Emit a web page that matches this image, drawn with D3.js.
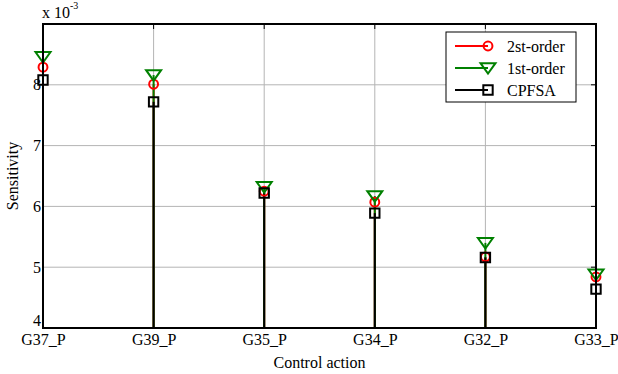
<!DOCTYPE html>
<html>
<head>
<meta charset="utf-8">
<script src="https://cdn.jsdelivr.net/npm/d3@7"></script>
<style>
  body { margin: 0; background: #fff; }
</style>
</head>
<body>
<script>
// ---- data (values in units of 1e-3) ----
var actions = ["G37_P", "G39_P", "G35_P", "G34_P", "G32_P", "G33_P"];
var secondOrder = [8.29, 8.01, 6.25, 6.07, 5.17, 4.84];
var firstOrder  = [8.46, 8.16, 6.32, 6.17, 5.40, 4.88];
var cpfsa       = [8.08, 7.72, 6.22, 5.89, 5.16, 4.64];
var yTicks = [4, 5, 6, 7, 8];

var series = [
  { name: "2st-order", values: secondOrder, color: "#ff0000", marker: "circle" },
  { name: "1st-order", values: firstOrder,  color: "#008000", marker: "triangle" },
  { name: "CPFSA",     values: cpfsa,       color: "#000000", marker: "square" }
];

var W = 618, H = 374;
var FONT = "Liberation Serif", FS = "16px";
var margin = { top: 24, right: 22, bottom: 46, left: 43 },
    width = W - margin.left - margin.right,
    height = H - margin.top - margin.bottom;

var svg = d3.select("body").append("svg")
    .attr("width", W).attr("height", H);

var g = svg.append("g")
    .attr("transform", "translate(" + margin.left + "," + margin.top + ")");

var x = d3.scalePoint().domain(actions).range([0, width]);
var y = d3.scaleLinear().domain([4, 9]).range([height, 0]);

// grid
g.append("g").selectAll("line").data(actions.slice(1, -1)).enter().append("line")
    .attr("x1", d => x(d)).attr("x2", d => x(d))
    .attr("y1", 0).attr("y2", height)
    .attr("stroke", "#b4b4b4").attr("stroke-width", 1);
g.append("g").selectAll("line").data(yTicks.slice(1)).enter().append("line")
    .attr("x1", 0).attr("x2", width)
    .attr("y1", d => y(d)).attr("y2", d => y(d))
    .attr("stroke", "#b4b4b4").attr("stroke-width", 1);

// clip for stems
svg.append("defs").append("clipPath").attr("id", "clip")
  .append("rect").attr("width", width).attr("height", height);

var sym = {
  circle: d3.symbol().type(d3.symbolCircle).size(62),
  square: d3.symbol().type(d3.symbolSquare).size(88)
};
function triangle(s) {
  // downward pointing triangle
  return "M" + (-s) + "," + (-s * 0.65) + "L" + s + "," + (-s * 0.65) + "L0," + (s * 0.75) + "Z";
}

// stems
series.forEach(function (s) {
  g.append("g").attr("clip-path", "url(#clip)")
    .selectAll("line").data(s.values).enter().append("line")
    .attr("x1", (d, i) => x(actions[i])).attr("x2", (d, i) => x(actions[i]))
    .attr("y1", height).attr("y2", d => y(d))
    .attr("stroke", s.color).attr("stroke-width", 2);
});

// markers
function drawMarker(sel, type) {
  if (type === "triangle") sel.attr("d", triangle(7.5));
  else sel.attr("d", sym[type]());
}
series.forEach(function (s) {
  g.append("g").selectAll("path").data(s.values).enter().append("path")
    .attr("transform", (d, i) => "translate(" + x(actions[i]) + "," + y(d) + ")")
    .call(drawMarker, s.marker)
    .attr("fill", "none").attr("stroke", s.color).attr("stroke-width", 2);
});

// axes
var xAxis = g.append("g").attr("transform", "translate(0," + height + ")")
    .call(d3.axisBottom(x).tickSize(0).tickPadding(6));
var yAxis = g.append("g")
    .call(d3.axisLeft(y).tickValues(yTicks).tickFormat(d3.format("d")).tickSize(0).tickPadding(2));
[xAxis, yAxis].forEach(function (a) {
  a.select(".domain").remove();
  a.selectAll("text").style("font-family", FONT).style("font-size", FS).attr("fill", "#000");
});
yAxis.selectAll("text").filter(d => d === 4).attr("dy", "-0.15em");

// inward tick marks
g.append("g").selectAll("line").data(yTicks).enter().append("line")
    .attr("x1", width - 5).attr("x2", width).attr("y1", d => y(d)).attr("y2", d => y(d))
    .attr("stroke", "#000");
g.append("g").selectAll("line").data(actions).enter().append("line")
    .attr("x1", d => x(d)).attr("x2", d => x(d)).attr("y1", 0).attr("y2", 5)
    .attr("stroke", "#000");

// box
g.append("rect").attr("width", width).attr("height", height)
    .attr("fill", "none").attr("stroke", "#000").attr("stroke-width", 2);

// exponent label
var ex = svg.append("text").attr("x", margin.left - 1).attr("y", 18)
    .style("font-family", FONT).style("font-size", FS).text("x 10");
ex.append("tspan").attr("dy", -9).style("font-size", "10px").text("-3");

// axis titles
svg.append("text").attr("x", margin.left + width / 2).attr("y", H - 6)
    .attr("text-anchor", "middle").style("font-family", FONT).style("font-size", FS)
    .text("Control action");
svg.append("text").attr("transform", "translate(18," + (margin.top + height / 2) + ") rotate(-90)")
    .attr("text-anchor", "middle").style("font-family", FONT).style("font-size", FS)
    .text("Sensitivity");

// legend
var lg = svg.append("g").attr("transform", "translate(446,32)");
lg.append("rect").attr("width", 130).attr("height", 70)
    .attr("fill", "#fff").attr("stroke", "#000").attr("stroke-width", 1);
var item = lg.selectAll("g.item").data(series).enter().append("g")
    .attr("class", "item")
    .attr("transform", (d, i) => "translate(0," + (14 + i * 22) + ")");
item.append("line").attr("x1", 9).attr("x2", 42)
    .attr("stroke", d => d.color).attr("stroke-width", 2);
item.append("path")
    .attr("transform", "translate(42,0)")
    .each(function (d) { drawMarker(d3.select(this), d.marker); })
    .attr("fill", "none").attr("stroke", d => d.color).attr("stroke-width", 2);
item.append("text").attr("x", 61).attr("dy", "0.35em")
    .style("font-family", FONT).style("font-size", FS)
    .text(d => d.name);
</script>
</body>
</html>
